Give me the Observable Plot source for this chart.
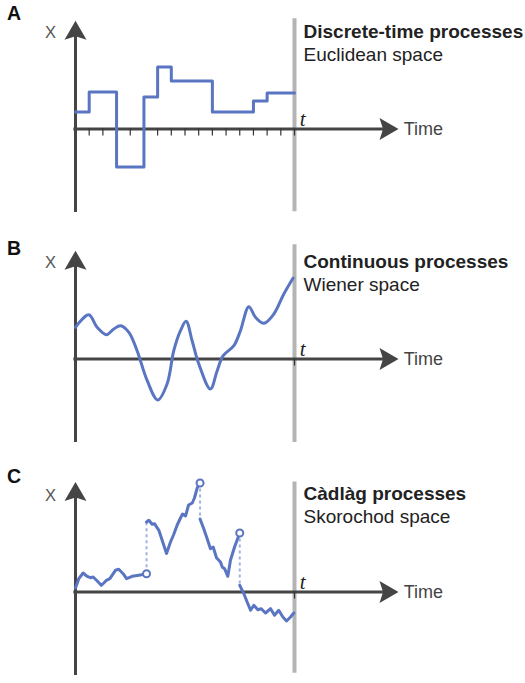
<!DOCTYPE html>
<html><head><meta charset="utf-8">
<script src="https://cdn.jsdelivr.net/npm/d3@7"></script>
<script src="https://cdn.jsdelivr.net/npm/@observablehq/plot@0.6"></script>
<style>
body{margin:0;background:#fff;}
#chart svg{display:block;}
</style>
</head><body><div id="chart"></div>
<script>
// ---------- text ----------
const panelLetters = ["A", "B", "C"];
const panelTitles = ["Discrete-time processes", "Continuous processes", "Càdlàg processes"];
const panelSubtitles = ["Euclidean space", "Wiener space", "Skorochod space"];
const xLabel = "X";
const tLabel = "t";
const timeLabel = "Time";

// ---------- panel A: step process ----------
const aTime  = [0, 1, 2, 3, 4, 5, 6, 7, 8, 9, 10, 11, 12, 13, 14, 15, 16];
const aValue = [17, 37, 37, -38, -38, 32, 62, 48, 48, 48, 17, 17, 17, 28, 36, 36, 36];
const aTicks = [1, 2, 3, 4, 5, 6, 7, 8, 9, 10, 11, 12, 13, 14, 15, 16];

// ---------- panel B: continuous path ----------
const bTime  = [0, 0.97, 1.58, 2.26, 2.8, 3.29, 3.9, 4.5, 5.24, 6.01, 6.69, 7.18, 7.67, 8.08, 8.52, 9.01, 9.86, 10.35, 10.79, 11.57, 12.05, 12.66, 13.15, 13.76, 14.49, 15.22, 15.9];
const bValue = [31.7, 44.3, 31.7, 24.3, 30, 33.3, 26.7, 8.3, -21.7, -41, -25, 8.3, 28.3, 37.7, 18.3, -5, -30, -11.7, 3.3, 13.3, 28.3, 52.3, 41.7, 35.7, 45, 65, 81];

// ---------- panel C: càdlàg path (4 continuous pieces) ----------
const cTime = [
  0, 0.24, 0.56, 0.85, 1.10, 1.29, 1.59, 1.88, 2.07, 2.26, 2.51, 2.92, 3.16, 3.48, 3.73, 4.14, 4.62, 5.04, 5.19,
  5.19, 5.36, 5.60, 5.77, 6.09, 6.65, 6.94, 7.16, 7.43, 7.67, 7.82, 8.04, 8.26, 8.53, 8.69, 8.89, 9.10,
  9.10, 9.37, 9.62, 9.86, 10.06, 10.30, 10.59, 10.72, 10.89, 11.13, 11.32, 11.62, 12.00,
  12.00, 12.30, 12.54, 12.79, 13.03, 13.32, 13.57, 13.88, 14.25, 14.54, 14.85, 15.15, 15.42, 15.71, 15.95
];
const cValue = [
  4, 13.3, 19, 15.7, 14.3, 15, 11, 6.7, 9, 11.7, 13.3, 21.7, 22.7, 18.3, 13.3, 15.7, 16.7, 17.7, 18.3,
  70, 71.7, 67.7, 68.3, 61.7, 38.5, 50, 57, 67, 74, 78, 76, 87, 89, 94, 104, 109,
  73, 63.3, 53.3, 43.3, 45, 34.3, 30, 25, 23.3, 15.7, 31.7, 45, 59,
  6.7, -1.7, -10, -18.3, -13.3, -17.7, -16.7, -21, -16.7, -23.3, -18.3, -25, -29, -25, -21
];
const cPiece = [
  1,1,1,1,1,1,1,1,1,1,1,1,1,1,1,1,1,1,1,
  2,2,2,2,2,2,2,2,2,2,2,2,2,2,2,2,2,
  3,3,3,3,3,3,3,3,3,3,3,3,3,
  4,4,4,4,4,4,4,4,4,4,4,4,4,4,4
];
const jumpTime = [5.19, 9.10, 12.00];
const jumpLeft = [18.3, 109, 59];   // left limits (open circles)
const jumpRight = [70, 73, 6.7];    // values after the jump

// ---------- styles ----------
const blue = "#5a75c1";
const lightBlue = "#9fb2e2";
const axisColor = "#454545";
const grey = "#b4b4b4";
const sans = "Liberation Sans, Arial, sans-serif";

const arrowHead = {
  draw(ctx) {
    ctx.moveTo(0, 0);
    ctx.lineTo(11, 19);
    ctx.lineTo(0, 15.5);
    ctx.lineTo(-11, 19);
    ctx.closePath();
  }
};

function panel(i, height, axisY, opt, dataMarks) {
  return Plot.plot({
    width: 525,
    height,
    margin: 0,
    x: {domain: [0, 16], range: [75, 294], axis: null},
    y: {domain: [axisY - height, axisY], range: [height, 0], axis: null},
    marks: [
      Plot.ruleX([16], {y1: -opt.greyBottom, y2: opt.greyTop, stroke: grey, strokeWidth: 4}),
      Plot.ruleY([0], {x1: -0.12, x2: 22.5, stroke: axisColor, strokeWidth: 3}),
      Plot.ruleX([0], {y1: -83.5, y2: opt.arrowTop - 12, stroke: axisColor, strokeWidth: 3}),
      Plot.dot([[23.6, 0]], {x: d => d[0], y: d => d[1], symbol: arrowHead, rotate: 90, fill: axisColor, stroke: "none", r: 5}),
      Plot.dot([[0, opt.arrowTop]], {x: d => d[0], y: d => d[1], symbol: arrowHead, fill: axisColor, stroke: "none", r: 5}),
      Plot.ruleX(opt.ticks, {y1: 0, y2: -7, stroke: "#333", strokeWidth: 1.2}),
      ...dataMarks,
      Plot.text([panelLetters[i]], {x: -5.0, y: opt.letterY, text: d => d, textAnchor: "start", fontSize: 19.5, fontWeight: "bold", fill: "#111", fontFamily: sans}),
      Plot.text([xLabel], {x: -1.83, y: 96.5, text: d => d, textAnchor: "middle", fontSize: 16.5, fill: "#555", fontFamily: sans}),
      Plot.text([tLabel], {x: 16.6, y: 9.5, text: d => d, textAnchor: "middle", fontSize: 21, fontStyle: "italic", fill: "#222", fontFamily: "Liberation Serif, DejaVu Serif, serif"}),
      Plot.text([timeLabel], {x: 23.98, y: 0, text: d => d, textAnchor: "start", fontSize: 18, fill: "#444", fontFamily: sans}),
      Plot.text([panelTitles[i]], {x: 16.66, y: opt.titleY, text: d => d, textAnchor: "start", fontSize: 19, fontWeight: "bold", fill: "#222", fontFamily: sans}),
      Plot.text([panelSubtitles[i]], {x: 16.66, y: opt.titleY - 23, text: d => d, textAnchor: "start", fontSize: 19, fill: "#222", fontFamily: sans})
    ]
  });
}

const aData = aTime.map((t, k) => ({t, v: aValue[k]}));
const bData = bTime.map((t, k) => ({t, v: bValue[k]}));
const cData = cTime.map((t, k) => ({t, v: cValue[k], piece: cPiece[k]}));
const jumps = jumpTime.map((t, k) => ({t, from: jumpLeft[k], to: jumpRight[k]}));

const root = document.getElementById("chart");

root.append(panel(0, 230, 128.5,
  {greyTop: 110.3, greyBottom: 82.7, arrowTop: 108.3, letterY: 115.3, titleY: 96.6, ticks: aTicks},
  [Plot.line(aData, {x: "t", y: "v", curve: "step-after", stroke: blue, strokeWidth: 3})]
));

root.append(panel(1, 230, 128.5,
  {greyTop: 114.3, greyBottom: 83.4, arrowTop: 108.3, letterY: 110.3, titleY: 96.6, ticks: [16]},
  [Plot.line(bData, {x: "t", y: "v", curve: "catmull-rom", stroke: blue, strokeWidth: 3})]
));

root.append(panel(2, 223, 131.5,
  {greyTop: 110, greyBottom: 81.3, arrowTop: 110, letterY: 115, titleY: 98.4, ticks: [16]},
  [
    Plot.ruleX(jumps, {x: "t", y1: "from", y2: "to", stroke: lightBlue, strokeWidth: 2, strokeDasharray: "3,3"}),
    Plot.line(cData, {x: "t", y: "v", z: "piece", stroke: blue, strokeWidth: 3, strokeLinejoin: "round"}),
    Plot.dot(jumps, {x: "t", y: "from", r: 3.5, fill: "white", stroke: blue, strokeWidth: 2})
  ]
));
</script>
</body></html>
